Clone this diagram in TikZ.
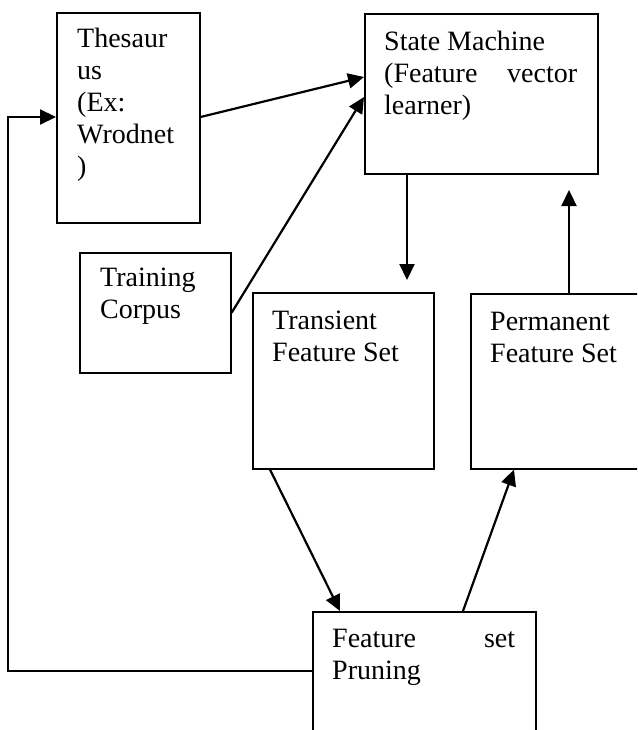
\documentclass[tikz,border=0pt]{standalone}
\usepackage{fontspec}
\setmainfont{Liberation Serif}
\usetikzlibrary{arrows.meta}
\begin{document}
\begin{tikzpicture}[x=1pt,y=-1pt,
  boxn/.style={draw, line width=1.6pt, anchor=north west, inner sep=0pt},
  txt/.style={anchor=north west, inner sep=0pt, align=left, font=\fontsize{28}{32}\selectfont},
  arr/.style={line width=2.2pt, -{Triangle[length=16pt,width=15pt]}}]
\fill[white] (0,0) rectangle (637,730);
\clip (0,0) rectangle (637,730);
% boxes
\node[boxn, minimum width=143pt, minimum height=210pt] (th) at (56,12) {};
\node[boxn, minimum width=233pt, minimum height=160pt] (sm) at (364,13) {};
\node[boxn, minimum width=151pt, minimum height=120pt] (tc) at (79,252) {};
\node[boxn, minimum width=181pt, minimum height=176pt] (tr) at (252,292) {};
\node[boxn, minimum width=172pt, minimum height=175pt] (pe) at (470,293) {};
\node[boxn, minimum width=223pt, minimum height=130pt] (pr) at (312,611) {};
% texts
\node[txt] (thT) at (77,28) {Thesaur\\us\\(Ex:\\Wrodnet\\)};
\node[txt] (smT) at (384,31) {State Machine\\\hbox to 193pt{(Feature\hfill vector}\\learner)};
\node[txt] (tcT) at (100,268) {Training\\Corpus};
\node[txt] (trT) at (272,311) {Transient\\Feature Set};
\node[txt] (peT) at (490,312) {Permanent\\Feature Set};
\node[txt] (prT) at (332,629) {\hbox to 183pt{Feature\hfill set}\\Pruning};
% helper coordinates
\coordinate (trIn) at (407,280);
\coordinate (smIn) at (569,190);
\coordinate (c1) at (8,671);
\coordinate (c2) at (8,117);
% connectors
\draw[arr] (th.east |- 0,117) -- (sm.west |- 0,77);
\draw[arr] (tc.east) -- (sm.west |- 0,97);
\draw[arr] (sm.south -| 407,0) -- (trIn);
\draw[arr] (pe.north -| 569,0) -- (smIn);
\draw[arr] (tr.south -| 270,0) -- (pr.north -| 340,0);
\draw[arr] (pr.north -| 463,0) -- (pe.south -| 514,0);
\draw[arr] (pr.west |- c1) -- (c1) -- (c2) -- (th.west |- c2);
\end{tikzpicture}
\end{document}
